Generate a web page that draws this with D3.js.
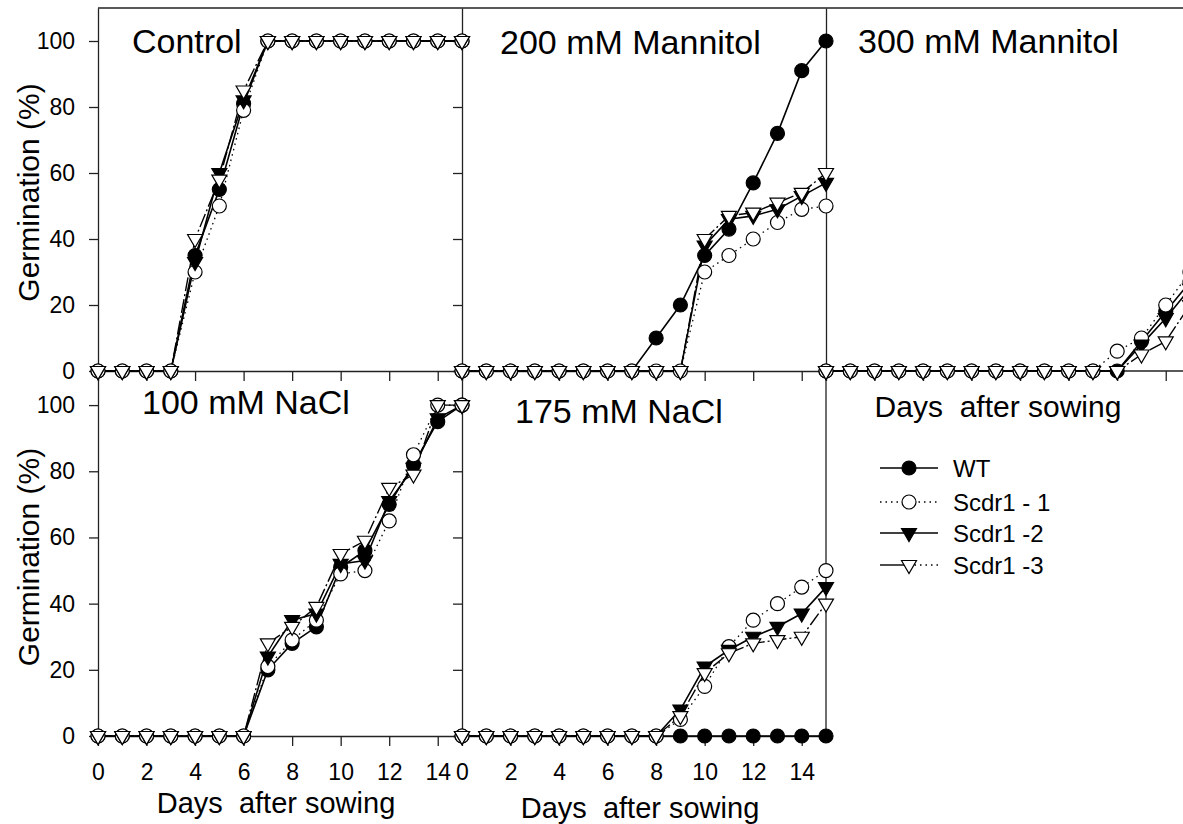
<!DOCTYPE html>
<html>
<head>
<meta charset="utf-8">
<script src="https://cdn.jsdelivr.net/npm/d3@7"></script>
<style>
  body { margin: 0; background: #fff; }
  svg text { font-family: "Liberation Sans", Arial, sans-serif; fill: #000; }
</style>
</head>
<body>
<svg id="chart" width="1183" height="824"></svg>
<script>
// days after sowing
var days = [0, 1, 2, 3, 4, 5, 6, 7, 8, 9, 10, 11, 12, 13, 14, 15];
var xTicks = [0, 2, 4, 6, 8, 10, 12, 14];
var yTicks = [0, 20, 40, 60, 80, 100];
var seriesNames = ["WT", "Scdr1 - 1", "Scdr1 -2", "Scdr1 -3"];
var panelTitles = ["Control", "200 mM Mannitol", "300 mM Mannitol", "100 mM NaCl", "175 mM NaCl"];

// germination (%) per panel, one array per line
var controlWT = [0, 0, 0, 0, 35, 55, 81, 100, 100, 100, 100, 100, 100, 100, 100, 100];
var controlS1 = [0, 0, 0, 0, 30, 50, 79, 100, 100, 100, 100, 100, 100, 100, 100, 100];
var controlS2 = [0, 0, 0, 0, 33, 60, 82, 100, 100, 100, 100, 100, 100, 100, 100, 100];
var controlS3 = [0, 0, 0, 0, 40, 58, 85, 100, 100, 100, 100, 100, 100, 100, 100, 100];

var man200WT = [0, 0, 0, 0, 0, 0, 0, 0, 10, 20, 35, 43, 57, 72, 91, 100];
var man200S1 = [0, 0, 0, 0, 0, 0, 0, 0, 0, 0, 30, 35, 40, 45, 49, 50];
var man200S2 = [0, 0, 0, 0, 0, 0, 0, 0, 0, 0, 38, 46, 47, 49, 53, 57];
var man200S3 = [0, 0, 0, 0, 0, 0, 0, 0, 0, 0, 40, 47, 48, 51, 54, 60];

var man300WT = [0, 0, 0, 0, 0, 0, 0, 0, 0, 0, 0, 0, 0, 9, 18, 27];
var man300S1 = [0, 0, 0, 0, 0, 0, 0, 0, 0, 0, 0, 0, 6, 10, 20, 30];
var man300S2 = [0, 0, 0, 0, 0, 0, 0, 0, 0, 0, 0, 0, 0, 8, 16, 25];
var man300S3 = [0, 0, 0, 0, 0, 0, 0, 0, 0, 0, 0, 0, 0, 5, 9, 20];

var nacl100WT = [0, 0, 0, 0, 0, 0, 0, 20, 28, 33, 51, 56, 70, 82, 95, 100];
var nacl100S1 = [0, 0, 0, 0, 0, 0, 0, 21, 29, 35, 49, 50, 65, 85, 100, 100];
var nacl100S2 = [0, 0, 0, 0, 0, 0, 0, 24, 35, 37, 52, 53, 71, 81, 96, 100];
var nacl100S3 = [0, 0, 0, 0, 0, 0, 0, 28, 33, 39, 55, 59, 75, 79, 100, 100];

var nacl175WT = [0, 0, 0, 0, 0, 0, 0, 0, 0, 0, 0, 0, 0, 0, 0, 0];
var nacl175S1 = [0, 0, 0, 0, 0, 0, 0, 0, 0, 5, 15, 27, 35, 40, 45, 50];
var nacl175S2 = [0, 0, 0, 0, 0, 0, 0, 0, 0, 8, 21, 26, 30, 33, 37, 45];
var nacl175S3 = [0, 0, 0, 0, 0, 0, 0, 0, 0, 6, 19, 25, 28, 29, 30, 40];

var svg = d3.select("#chart");
var axisColor = "#222";

var panels = [
  { title: panelTitles[0], col: 0, row: 0, data: [controlWT, controlS1, controlS2, controlS3], tx: 34, ty: 53, yLabels: true, yTicks: true, xLabels: false },
  { title: panelTitles[1], col: 1, row: 0, data: [man200WT, man200S1, man200S2, man200S3], tx: 38, ty: 54, yLabels: false, yTicks: true, xLabels: false },
  { title: panelTitles[2], col: 2, row: 0, data: [man300WT, man300S1, man300S2, man300S3], tx: 32, ty: 53, yLabels: false, yTicks: false, xLabels: false },
  { title: panelTitles[3], col: 0, row: 1, data: [nacl100WT, nacl100S1, nacl100S2, nacl100S3], tx: 44, ty: 414, yLabels: true, yTicks: true, xLabels: true, xTitleY: 813 },
  { title: panelTitles[4], col: 1, row: 1, data: [nacl175WT, nacl175S1, nacl175S2, nacl175S3], tx: 53, ty: 423, yLabels: false, yTicks: true, xLabels: true, xTitleY: 818 }
];

var colLeft = [98, 462, 826];
var panelW = 364;
var rowRange = [[371, 8], [736, 372]];

// line + marker style per series
var styles = [
  { dash: null, width: 1.6, marker: "circle", fill: "#000" },
  { dash: "1.5,4", width: 1.3, marker: "circle", fill: "#fff" },
  { dash: null, width: 1.6, marker: "tri", fill: "#000" },
  { dash: "14,3,2,3", width: 1.4, marker: "tri", fill: "#fff" }
];

function drawMarker(g, st, cx, cy) {
  if (st.marker === "circle") {
    g.append("circle").attr("cx", cx).attr("cy", cy).attr("r", 7)
      .attr("fill", st.fill).attr("stroke", "#000").attr("stroke-width", 1.2);
  } else {
    g.append("path").attr("d", "M-7.5,-4.5L7.5,-4.5L0,8.5Z")
      .attr("transform", "translate(" + cx + "," + cy + ")")
      .attr("fill", st.fill).attr("stroke", "#000").attr("stroke-width", 1.2);
  }
}

// top frame line
svg.append("line").attr("x1", 98).attr("x2", 1183).attr("y1", 8).attr("y2", 8)
  .attr("stroke", axisColor).attr("stroke-width", 1.3);
// right border of 175 mM panel
svg.append("line").attr("x1", 826).attr("x2", 826).attr("y1", 372).attr("y2", 736)
  .attr("stroke", axisColor).attr("stroke-width", 1.3);

panels.forEach(function (p) {
  var x = d3.scaleLinear().domain([0, 15]).range([colLeft[p.col], colLeft[p.col] + panelW]);
  var y = d3.scaleLinear().domain([0, 110]).range(rowRange[p.row]);
  p.x = x; p.y = y;

  var xAxis = d3.axisBottom(x).tickValues(xTicks).tickSize(10).tickSizeOuter(0)
    .tickPadding(18).tickFormat(p.xLabels ? d3.format("d") : "");
  var gx = svg.append("g").attr("transform", "translate(0," + y(0) + ")").call(xAxis);
  if (p.col === 2) gx.select(".domain").attr("d", "M" + x(0) + ",0H1183");

  var yAxis = d3.axisLeft(y).tickValues(p.yTicks ? yTicks : []).tickSize(9).tickSizeOuter(0)
    .tickPadding(14).tickFormat(p.yLabels ? d3.format("d") : "");
  var gy = svg.append("g").attr("transform", "translate(" + x(0) + ",0)").call(yAxis);

  [gx, gy].forEach(function (g) {
    g.select(".domain").attr("stroke", axisColor).attr("stroke-width", 1.3);
    g.selectAll(".tick line").attr("stroke", axisColor).attr("stroke-width", 1.3);
    g.selectAll(".tick text").attr("font-size", 23).attr("fill", "#000")
      .attr("font-family", "Liberation Sans, Arial, sans-serif");
  });

  // panel title
  svg.append("text").attr("x", x(0) + p.tx).attr("y", p.ty)
    .attr("font-size", 34).text(p.title);

  if (p.yLabels) {
    var mid = (rowRange[p.row][0] + rowRange[p.row][1]) / 2 + 3;
    svg.append("text").attr("transform", "translate(39," + mid + ") rotate(-90)")
      .attr("text-anchor", "middle").attr("font-size", 30).text("Germination (%)");
  }
  if (p.xLabels) {
    svg.append("text").attr("x", x(7.5) - 4).attr("y", p.xTitleY)
      .attr("text-anchor", "middle").attr("font-size", 29).text("Days\u00a0 after sowing");
  }
});

// x title for the mannitol 300 panel (sits under its axis)
svg.append("text").attr("x", 998).attr("y", 417).attr("text-anchor", "middle")
  .attr("font-size", 30).text("Days\u00a0 after sowing");

// lines then markers
panels.forEach(function (p) {
  var g = svg.append("g");
  p.data.forEach(function (vals, si) {
    var st = styles[si];
    var line = d3.line().x(function (d, i) { return p.x(days[i]); }).y(function (d) { return p.y(d); });
    g.append("path").datum(vals).attr("d", line).attr("fill", "none")
      .attr("stroke", "#000").attr("stroke-width", st.width)
      .attr("stroke-dasharray", st.dash);
  });
  p.data.forEach(function (vals, si) {
    vals.forEach(function (v, i) {
      drawMarker(g, styles[si], p.x(days[i]), p.y(v));
    });
  });
});

// legend
var legend = svg.append("g");
var legendY = [468, 502, 533, 565];
seriesNames.forEach(function (name, si) {
  var st = styles[si];
  var ly = legendY[si];
  if (si === 3) {
    legend.append("line").attr("x1", 880).attr("x2", 909).attr("y1", ly).attr("y2", ly)
      .attr("stroke", "#000").attr("stroke-width", st.width);
    legend.append("line").attr("x1", 909).attr("x2", 938).attr("y1", ly).attr("y2", ly)
      .attr("stroke", "#000").attr("stroke-width", 1.3).attr("stroke-dasharray", "1.5,4");
  } else {
    legend.append("line").attr("x1", 880).attr("x2", 938).attr("y1", ly).attr("y2", ly)
      .attr("stroke", "#000").attr("stroke-width", st.width)
      .attr("stroke-dasharray", st.dash);
  }
  drawMarker(legend, st, 909, ly);
  legend.append("text").attr("x", 953).attr("y", ly + 8.5).attr("font-size", 24).text(name);
});
</script>
</body>
</html>
